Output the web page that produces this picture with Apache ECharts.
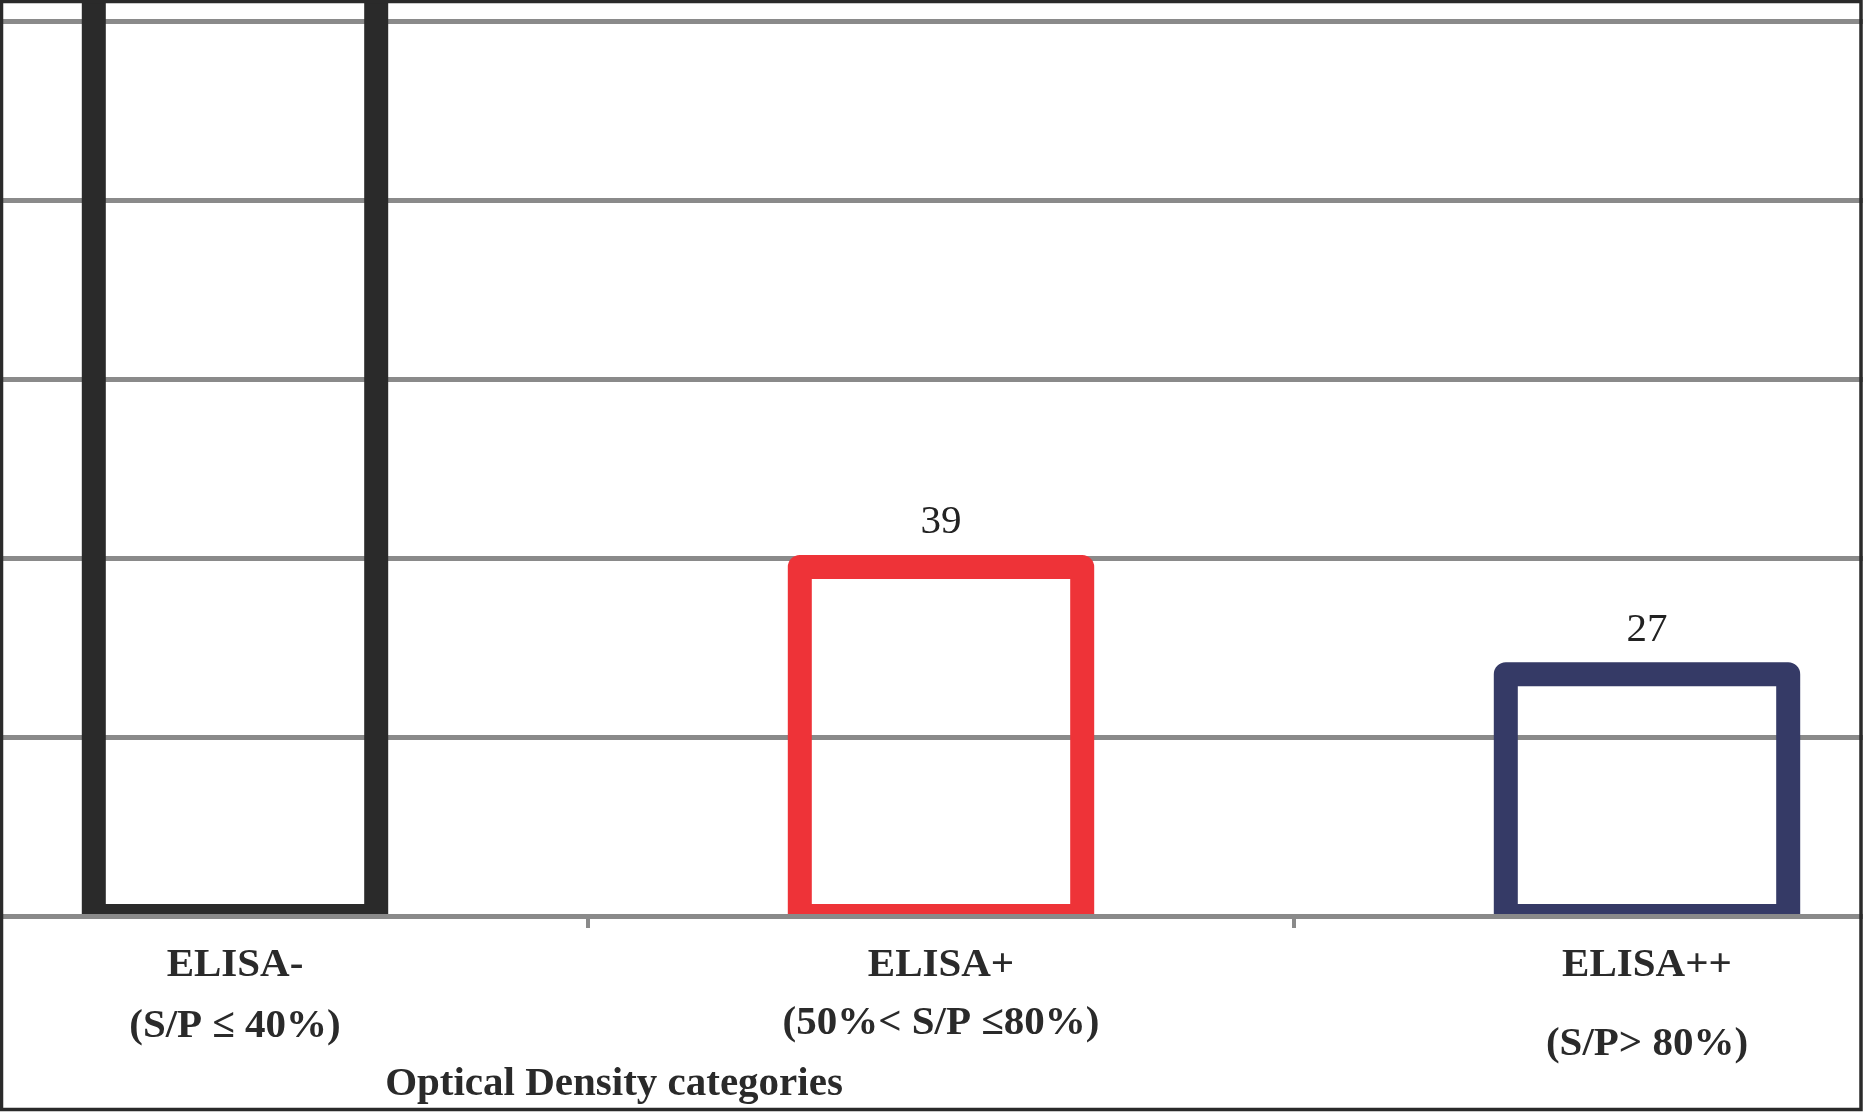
<!DOCTYPE html>
<html>
<head>
<meta charset="utf-8">
<script src="https://cdn.jsdelivr.net/npm/echarts@6/dist/echarts.min.js"></script>
<style>
  html, body { margin: 0; padding: 0; background: #fff; overflow: hidden; width: 1863px; height: 1112px; }
  /* the plot area is wider than the picture: the reference is a crop of a wider chart */
  #chart { position: absolute; left: -118px; top: 0; width: 2118px; height: 1112px; }
</style>
</head>
<body>
<div id="chart"></div>
<script>
// ---- data ----
const categories = ['ELISA-\n(S/P ≤ 40%)', 'ELISA+\n(50%< S/P ≤80%)', 'ELISA++\n(S/P> 80%)'];
const values = [134, 39, 27];          // first bar runs past the top of the picture (value not visible)
const showValueLabel = [false, true, true];
const yTicks = [0, 20, 40, 60, 80, 100];
const axisTitle = 'Optical Density categories';

// ---- styles ----
const barColors = ['#2a2a2a', '#ee3338', '#353a66'];
const gridGray = '#8a8a8a';
const textColor = '#2a2a2a';
const serif = '"Liberation Serif", "Times New Roman", serif';
const OFF = 118;          // horizontal offset of the chart canvas relative to the page
const BAR_RATIO = 0.4;    // bar width as share of the category band
const BORDER = 24;

const chart = echarts.init(document.getElementById('chart'), null, { renderer: 'canvas' });

const seriesData = values.map((v, i) => [i, v]);

function renderBar(params, api) {
  const i = api.value(0);
  const v = api.value(1);
  const top = api.coord([i, v]);
  const base = api.coord([i, 0]);
  const bw = api.size([1, 0])[0] * BAR_RATIO;
  const children = [{
    type: 'rect',
    shape: { x: top[0] - bw / 2, y: top[1], width: bw, height: base[1] - top[1] },
    style: { fill: 'none', stroke: barColors[i], lineWidth: BORDER, lineJoin: 'round' }
  }];
  if (showValueLabel[i]) {
    children.push({
      type: 'text',
      x: top[0],
      y: top[1] - 24,
      style: {
        text: String(v),
        font: '41px ' + serif,
        fill: '#222222',
        align: 'center',
        verticalAlign: 'bottom'
      }
    });
  }
  return { type: 'group', children: children };
}

const option = {
  animation: false,
  backgroundColor: '#ffffff',
  grid: { left: 0, right: 0, top: 21, bottom: 196, containLabel: false },
  xAxis: {
    type: 'category',
    data: categories,
    z: 5,
    boundaryGap: true,
    axisLine: { show: true, lineStyle: { color: gridGray, width: 5 } },
    axisTick: { show: true, length: 12, lineStyle: { color: gridGray, width: 4 } },
    splitLine: { show: false },
    axisLabel: {
      interval: 0,
      margin: 19,
      color: textColor,
      formatter: function (value, index) {
        const parts = value.split('\n');
        return '{a|' + parts[0] + '}\n{b' + index + '|' + parts[1] + '}';
      },
      rich: {
        a: { fontFamily: serif, fontWeight: 'bold', fontSize: 41, lineHeight: 60, color: textColor },
        b0: { fontFamily: serif, fontWeight: 'bold', fontSize: 41, lineHeight: 62, color: textColor },
        b1: { fontFamily: serif, fontWeight: 'bold', fontSize: 41, lineHeight: 56, color: textColor },
        b2: { fontFamily: serif, fontWeight: 'bold', fontSize: 41, lineHeight: 98, color: textColor }
      }
    }
  },
  yAxis: {
    type: 'value',
    min: yTicks[0],
    max: yTicks[yTicks.length - 1],
    interval: yTicks[1] - yTicks[0],
    axisLine: { show: false },
    axisTick: { show: false },
    axisLabel: { show: false },
    splitLine: { show: true, lineStyle: { color: gridGray, width: 5 } }
  },
  series: [{
    type: 'custom',
    data: seriesData,
    renderItem: renderBar,
    clip: false,
    z: 2,
    encode: { x: 0, y: 1 }
  }],
  graphic: {
    elements: [
      {
        type: 'rect',
        z: 3,
        silent: true,
        shape: { x: 0, y: 919, width: 2118, height: 200 },
        style: { fill: '#ffffff' }
      },
      {
        type: 'text',
        z: 10,
        silent: true,
        x: 614 + OFF,
        y: 1084,
        style: {
          text: axisTitle,
          font: 'bold 41px ' + serif,
          fill: textColor,
          align: 'center',
          verticalAlign: 'middle',
          textAlign: 'center',
          textVerticalAlign: 'middle'
        }
      },
      {
        type: 'rect',
        z: 100,
        silent: true,
        shape: { x: 1.5 + OFF, y: 1.5, width: 1859.5, height: 1108 },
        style: { fill: 'none', stroke: '#2a2a2a', lineWidth: 3.5 }
      }
    ]
  }
};

chart.setOption(option);
</script>
</body>
</html>
